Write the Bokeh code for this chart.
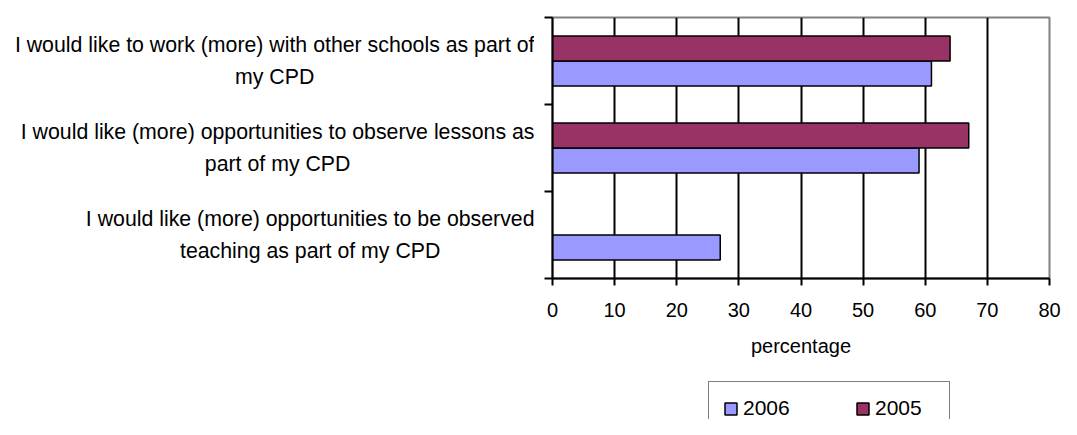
from bokeh.plotting import figure
from bokeh.layouts import row, column
from bokeh.models import (Range1d, FixedTicker, Legend, LegendItem, ColumnDataSource)
from bokeh.core.properties import value
from bokeh.transform import dodge
from bokeh.embed import file_html
from bokeh.resources import INLINE

# ---- data ----
categories = [
    "I would like to work (more) with other schools as part of\nmy CPD",
    "I would like (more) opportunities to observe lessons as\npart of my CPD",
    "I would like (more) opportunities to be observed\nteaching as part of my CPD",
]
values_2006 = [61, 59, 27]
values_2005 = [64, 67, None]
series_names = ["2006", "2005"]
x_ticks = [0, 10, 20, 30, 40, 50, 60, 70, 80]

FONT = "Liberation Sans"
C2006 = "#9999FF"
C2005 = "#993366"
NAN = float("nan")

n = len(categories)
centers = [n - i - 0.5 for i in range(n)]
bounds = [float(i) for i in range(n + 1)]

src = ColumnDataSource(dict(
    y=centers,
    cat=categories,
    v2006=[NAN if v is None else v for v in values_2006],
    v2005=[NAN if v is None else v for v in values_2005],
))

y_range = Range1d(0, n)
TOP, BOTTOM, H1 = 17, 92, 370

# ---- main chart ----
p = figure(width=527, height=H1, output_backend="svg", toolbar_location=None,
           x_range=Range1d(x_ticks[0], x_ticks[-1]), y_range=y_range,
           min_border_left=18, min_border_right=12, min_border_top=TOP,
           min_border_bottom=BOTTOM)
p.background_fill_color = "white"
p.border_fill_color = "white"
p.outline_line_color = "#808080"
p.outline_line_width = 2

bar_h = 0.287
p.hbar(y=dodge("y", -0.1435, range=y_range), right="v2006", left=0, height=bar_h,
       source=src, fill_color=C2006, line_color="black", line_width=1.5)
p.hbar(y=dodge("y", 0.1435, range=y_range), right="v2005", left=0, height=bar_h,
       source=src, fill_color=C2005, line_color="black", line_width=1.5)

xa = p.xaxis[0]
xa.ticker = FixedTicker(ticks=x_ticks)
xa.axis_line_width = 2
xa.axis_line_color = "black"
xa.major_tick_out = 7
xa.major_tick_in = 0
xa.major_tick_line_width = 2
xa.major_tick_line_color = "black"
xa.minor_tick_line_color = None
xa.major_label_text_font = FONT
xa.major_label_text_font_size = "20px"
xa.major_label_text_color = "black"
xa.major_label_standoff = 17
xa.axis_label = "percentage"
xa.axis_label_text_font = FONT
xa.axis_label_text_font_size = "20px"
xa.axis_label_text_font_style = "normal"
xa.axis_label_text_color = "black"
xa.axis_label_standoff = 15

ya = p.yaxis[0]
ya.ticker = FixedTicker(ticks=[], minor_ticks=bounds)
ya.axis_line_width = 2
ya.axis_line_color = "black"
ya.major_tick_out = 0
ya.major_tick_in = 0
ya.minor_tick_out = 8
ya.minor_tick_in = 0
ya.minor_tick_line_width = 2
ya.minor_tick_line_color = "black"
ya.major_label_standoff = 0

p.xgrid.ticker = FixedTicker(ticks=x_ticks[1:-1])
p.xgrid.grid_line_color = "black"
p.xgrid.grid_line_width = 2
p.ygrid.visible = False

# ---- category labels (right-aligned block, centred lines) ----
pl = figure(width=534, height=H1, output_backend="svg", toolbar_location=None,
            x_range=Range1d(0, 1), y_range=y_range, x_axis_type=None, y_axis_type=None,
            min_border_left=0, min_border_right=0, min_border_top=TOP,
            min_border_bottom=BOTTOM)
pl.outline_line_color = None
pl.grid.visible = False
pl.text(x=pl.x_range.end, y="y", text="cat", source=src, anchor="center_right",
        text_align="center", text_baseline="middle", text_font=value(FONT),
        text_font_size="21.3px", text_color="black", text_line_height=1.3)

# ---- legend strip ----
H2 = 419 - H1
pg = figure(width=1061, height=H2, output_backend="svg", toolbar_location=None,
            x_axis_type=None, y_axis_type=None, min_border=0,
            x_range=Range1d(0, 1), y_range=Range1d(0, 1))
pg.outline_line_color = None
pg.grid.visible = False
dummy = ColumnDataSource(dict(y=[NAN], r=[NAN]))
g06 = pg.hbar(y="y", right="r", height=1, source=dummy, fill_color=C2006,
              line_color="black", line_width=1.5)
g05 = pg.hbar(y="y", right="r", height=1, source=dummy, fill_color=C2005,
              line_color="black", line_width=1.5)
legend = Legend(items=[LegendItem(label=series_names[0], renderers=[g06]),
                       LegendItem(label=series_names[1], renderers=[g05])],
                orientation="horizontal", location=(708, -16), margin=0,
                glyph_width=15, glyph_height=15, label_standoff=5,
                label_width=60, spacing=52, padding=14,
                label_text_font=FONT, label_text_font_size="21px",
                label_text_color="black",
                border_line_color="black", border_line_width=1.5,
                background_fill_color="white", background_fill_alpha=1.0)
pg.add_layout(legend)

layout = column(row(pl, p), pg)
open("out.html", "w").write(file_html(layout, INLINE))
